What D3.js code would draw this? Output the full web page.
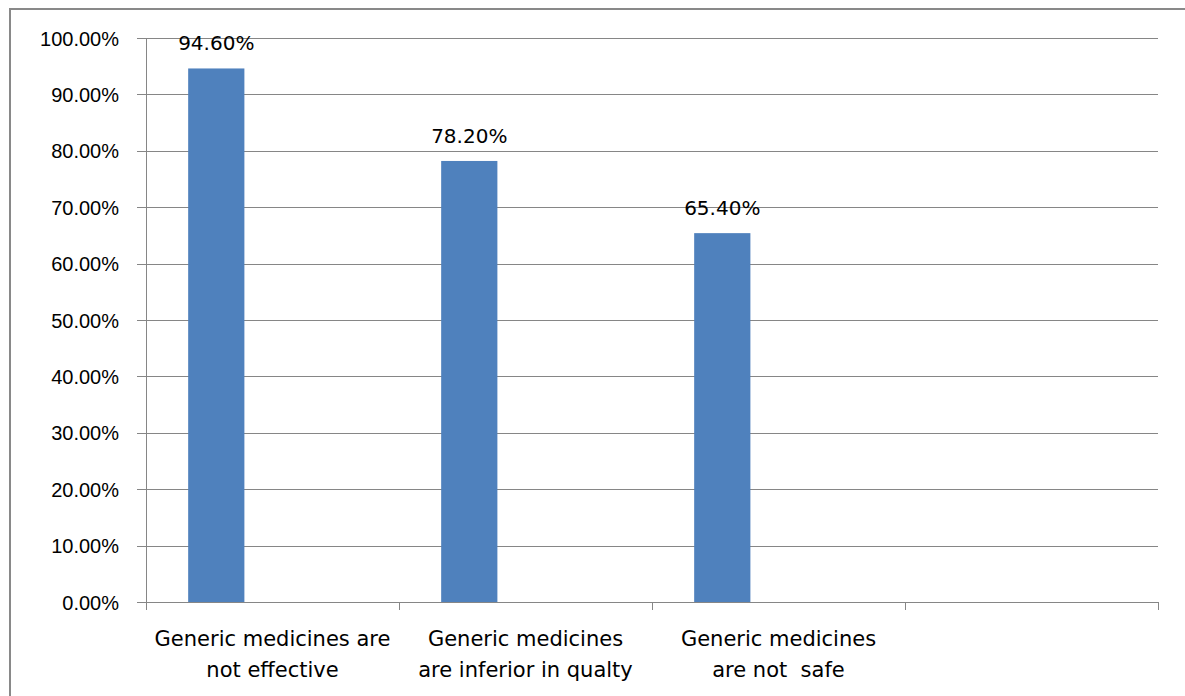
<!DOCTYPE html>
<meta charset="utf-8">
<style>
body { margin: 0; background: #fff; font-family: "DejaVu Sans", Arial, sans-serif; }
.axis path, .axis line { fill: none; stroke: #868686; stroke-width: 1; shape-rendering: crispEdges; }
.grid line { stroke: #868686; stroke-width: 1; shape-rendering: crispEdges; }
text { fill: #000; }
</style>
<body>
<script src="https://d3js.org/d3.v7.min.js"></script>
<script>
// data
var categories = ["Generic medicines are|not effective", "Generic medicines|are inferior in qualty", "Generic medicines|are not  safe", ""];
var values = [0.946, 0.782, 0.654, null];
var valueLabels = ["94.60%", "78.20%", "65.40%", ""];
var seriesSlots = ["Series1", "Series2", "Series3"]; // excel had 3 slots, only first filled
var yTicks = [0, 0.1, 0.2, 0.3, 0.4, 0.5, 0.6, 0.7, 0.8, 0.9, 1.0];

var W = 1185, H = 696;
var margin = {top: 38, right: 27, bottom: 94, left: 146},
    width = W - margin.left - margin.right,
    height = H - margin.top - margin.bottom;

var svg = d3.select("body").append("svg")
    .attr("width", W).attr("height", H);

// outer chart border (cut off at right and bottom)
svg.append("rect")
    .attr("x", 10).attr("y", 9)
    .attr("width", W + 10).attr("height", H + 10)
    .attr("fill", "none").attr("stroke", "#898989").attr("stroke-width", 2);

var g = svg.append("g").attr("transform", "translate(" + margin.left + "," + margin.top + ")");

var x = d3.scaleBand().domain(d3.range(categories.length)).range([0, width]).padding(0);
var xs = d3.scaleBand().domain(seriesSlots).range([0, x.bandwidth()]).paddingInner(0).paddingOuter(0.75);
var y = d3.scaleLinear().domain([0, 1]).range([height, 0]);

// gridlines
g.append("g").attr("class", "grid")
    .selectAll("line").data(yTicks.slice(1)).enter().append("line")
    .attr("x1", 0).attr("x2", width)
    .attr("y1", function(d) { return Math.round(y(d)) + 0.5; })
    .attr("y2", function(d) { return Math.round(y(d)) + 0.5; });

// y axis
var yAxis = d3.axisLeft(y).tickValues(yTicks).tickFormat(d3.format(".2%")).tickSize(9).tickPadding(18);
var ya = g.append("g").attr("class", "axis").call(yAxis);
ya.selectAll("text").style("font-size", "20px").attr("dy", "0.35em");

// x axis
var xTickPos = d3.range(categories.length + 1).map(function(i) { return i * x.step(); });
var xa = g.append("g").attr("class", "axis").attr("transform", "translate(0," + height + ")");
xa.append("line").attr("x1", 0).attr("x2", width).attr("y1", 0.5).attr("y2", 0.5);
xa.selectAll("line.tk").data(xTickPos).enter().append("line").attr("class", "tk")
    .attr("x1", function(d) { return Math.round(d) + 0.5; })
    .attr("x2", function(d) { return Math.round(d) + 0.5; })
    .attr("y1", 0).attr("y2", 8);

// bars
g.selectAll(".bar").data(values).enter().filter(function(d) { return d != null; })
    .append("rect").attr("class", "bar")
    .attr("x", function(d, i) { return x(i) + xs("Series1"); })
    .attr("width", xs.bandwidth())
    .attr("y", function(d) { return y(d); })
    .attr("height", function(d) { return height - y(d); })
    .attr("fill", "#4F81BD");

// value labels
g.selectAll(".vlab").data(values).enter().filter(function(d) { return d != null; })
    .append("text").attr("class", "vlab")
    .attr("x", function(d, i) { return x(i) + xs("Series1") + xs.bandwidth() / 2; })
    .attr("y", function(d) { return y(d) - 18; })
    .attr("text-anchor", "middle")
    .style("font-size", "20px")
    .text(function(d, i) { return valueLabels[i]; });

// category labels
var cl = g.selectAll(".clab").data(categories).enter().append("text").attr("class", "clab")
    .attr("text-anchor", "middle")
    .attr("x", function(d, i) { return x(i) + x.bandwidth() / 2; })
    .attr("y", height + 44)
    .style("font-size", "21px")
    .style("white-space", "pre");
cl.each(function(d) {
    var t = d3.select(this);
    d.split("|").forEach(function(line, k) {
        t.append("tspan").attr("x", t.attr("x")).attr("dy", k === 0 ? 0 : 31).text(line);
    });
});
</script>
</body>
